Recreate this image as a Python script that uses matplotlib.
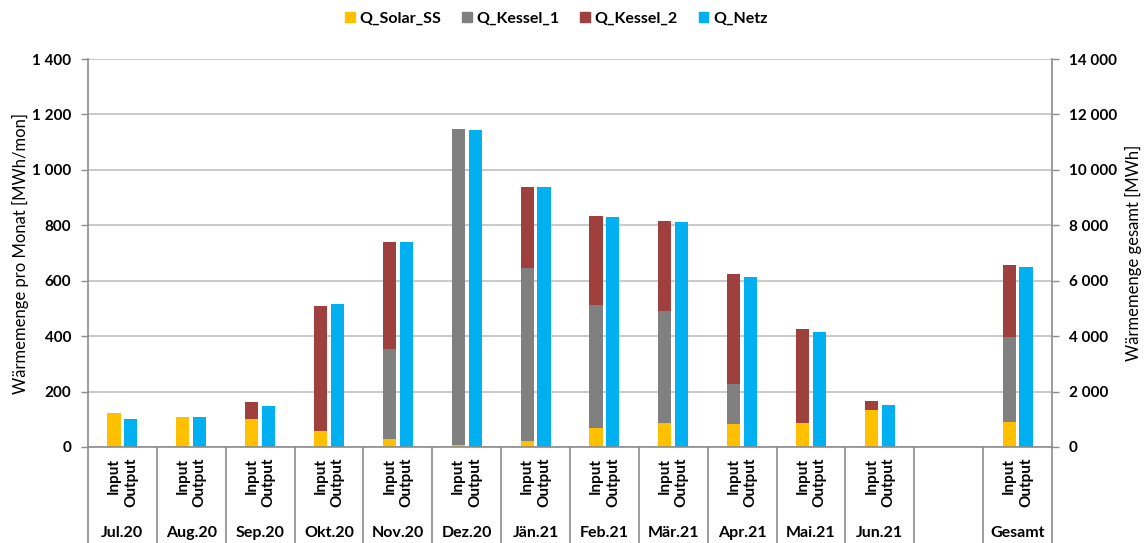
import matplotlib
matplotlib.use("Agg")
import matplotlib.pyplot as plt
import matplotlib.transforms as mtransforms
from matplotlib.patches import Patch
from matplotlib.lines import Line2D
from matplotlib.ticker import FuncFormatter, MultipleLocator

plt.rcParams['font.family'] = ['Lato', 'DejaVu Sans']

# monthly values [MWh/mon]
months = ["Jul.20", "Aug.20", "Sep.20", "Okt.20", "Nov.20", "Dez.20", "Jän.21",
          "Feb.21", "Mär.21", "Apr.21", "Mai.21", "Jun.21"]
q_solar = [124, 109, 101, 57, 28, 7, 22, 67, 88, 82, 87, 135]
q_kessel1 = [0, 0, 0, 0, 324, 1139, 624, 445, 403, 147, 0, 0]
q_kessel2 = [0, 0, 60, 453, 387, 0, 292, 323, 323, 394, 339, 31]
q_netz = [101, 109, 147, 517, 739, 1144, 938, 829, 813, 615, 415, 152]

# yearly totals [MWh]
total_label = "Gesamt"
total_solar = 890
total_kessel1 = 3075
total_kessel2 = 2620
total_netz = 6490

c_solar = "#FFC000"
c_k1 = "#808080"
c_k2 = "#9E403D"
c_netz = "#00B0F0"
c_axis = "#8C8C8C"

W, H = 1147, 543
fig = plt.figure(figsize=(W / 100, H / 100), dpi=100)
ax = fig.add_axes([88 / W, 1 - 447 / H, (1052 - 88) / W, (447 - 59) / H])
ax2 = ax.twinx()

off = 0.123
bw = 0.19
xs = list(range(len(months)))
xin = [x - off for x in xs]
xout = [x + off for x in xs]
bot2 = [a + b for a, b in zip(q_solar, q_kessel1)]

ax.bar(xin, q_solar, bw, color=c_solar, zorder=3)
ax.bar(xin, q_kessel1, bw, bottom=q_solar, color=c_k1, zorder=3)
ax.bar(xin, q_kessel2, bw, bottom=bot2, color=c_k2, zorder=3)
ax.bar(xout, q_netz, bw, color=c_netz, zorder=3)

gi = len(months) + 1
ax2.bar(gi - off, total_solar, bw, color=c_solar)
ax2.bar(gi - off, total_kessel1, bw, bottom=total_solar, color=c_k1)
ax2.bar(gi - off, total_kessel2, bw, bottom=total_solar + total_kessel1, color=c_k2)
ax2.bar(gi + off, total_netz, bw, color=c_netz)

ngroups = gi + 1
ax.set_xlim(-0.5, ngroups - 0.5)
ax.set_ylim(0, 1400)
ax2.set_ylim(0, 14000)
ax.yaxis.set_major_locator(MultipleLocator(200))
ax2.yaxis.set_major_locator(MultipleLocator(2000))

fmt = FuncFormatter(lambda v, p: f"{v:,.0f}".replace(",", " "))
for a in (ax, ax2):
    a.yaxis.set_major_formatter(fmt)
    a.set_xticks([])
    for s in a.spines.values():
        s.set_visible(False)
    a.tick_params(axis="y", length=5, width=1, color=c_axis, labelsize=11, pad=7)
    for t in a.get_yticklabels():
        t.set_fontweight("bold")

ax.grid(axis="y", color="#C0C0C0", lw=1.2, zorder=0)
ax.set_axisbelow(True)
for s in ("left", "right", "bottom"):
    ax2.spines[s].set_visible(True)
    ax2.spines[s].set_color(c_axis)
    ax2.spines[s].set_linewidth(1.2)

ax.set_ylabel("Wärmemenge pro Monat [MWh/mon]", fontsize=12, labelpad=2)
ax2.set_ylabel("Wärmemenge gesamt [MWh]", fontsize=12, labelpad=6)

# multi-level category axis below the plot
trans = mtransforms.blended_transform_factory(ax.transData, ax.transAxes)
labels = months + ["", total_label]
for i, lab in enumerate(labels):
    if lab:
        ax.text(i - off, -0.028, "Input", rotation=90, ha="center", va="top",
                fontsize=11, fontweight="bold", transform=trans)
        ax.text(i + off, -0.028, "Output", rotation=90, ha="center", va="top",
                fontsize=11, fontweight="bold", transform=trans)
        ax.text(i, -0.222, lab, ha="center", va="center", fontsize=11.5,
                fontweight="bold", transform=trans)
for i in range(ngroups + 1):
    ax.add_line(Line2D([i - 0.5, i - 0.5], [0, -0.26], transform=trans,
                       color=c_axis, lw=1.2, clip_on=False))

handles = [Patch(color=c_solar, label="Q_Solar_SS"),
           Patch(color=c_k1, label="Q_Kessel_1"),
           Patch(color=c_k2, label="Q_Kessel_2"),
           Patch(color=c_netz, label="Q_Netz")]
fig.legend(handles=handles, loc="center", bbox_to_anchor=(0.485, 1 - 19 / H), ncol=4,
           frameon=False, handlelength=0.6, handleheight=0.6, handletextpad=0.3,
           columnspacing=1.3, prop={"weight": "bold", "size": 11.5})

fig.savefig("out.png", dpi=100)
